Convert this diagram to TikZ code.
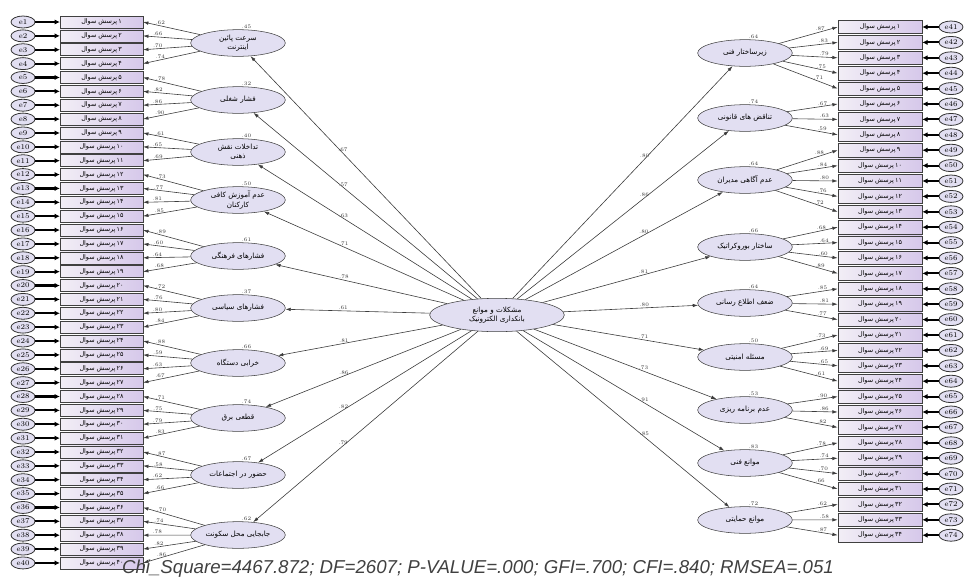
\documentclass[tikz,border=0pt]{standalone}
\usepackage{fontspec}
\setsansfont{Liberation Sans}
\newfontfamily\arabicfont[Script=Arabic]{DejaVu Sans}
\newfontfamily\digitfont{DejaVu Sans}
\TeXXeTstate=1
\usetikzlibrary{shapes.geometric, arrows.meta, positioning}
\definecolor{boxleft}{RGB}{242,238,246}
\definecolor{boxright}{RGB}{214,200,234}
\definecolor{latfill}{RGB}{226,223,242}
\definecolor{linegray}{RGB}{60,60,60}

\newcommand{\rtl}[1]{{\arabicfont\beginR #1\endR}}
\newcommand{\fadigit}[1]{\ifcase#1 ۰\or ۱\or ۲\or ۳\or ۴\or ۵\or ۶\or ۷\or ۸\or ۹\fi}
\newcommand{\fanum}[1]{\pgfmathtruncatemacro\fatens{#1/10}\pgfmathtruncatemacro\faones{mod(#1,10)}%
  {\digitfont\ifnum\fatens>0 \fadigit{\fatens}\fi\fadigit{\faones}}}

\begin{document}
\begin{tikzpicture}[x=0.75pt, y=-0.75pt,
  indbox/.style={rectangle, draw=black!75, left color=boxleft, right color=boxright,
    minimum width=62pt, minimum height=9pt, inner sep=0pt, font=\fontsize{4.8}{5}\selectfont},
  indboxr/.style={indbox, minimum width=63pt, minimum height=10pt},
  errnode/.style={ellipse, draw=black!80, line width=0.6pt, fill=latfill, minimum width=18pt,
    minimum height=9pt, inner sep=0pt, font=\fontsize{5.5}{6}\selectfont},
  latent/.style={ellipse, draw=black!75, fill=latfill, minimum width=71pt, minimum height=20pt,
    inner sep=0pt, align=center, font=\fontsize{5.4}{6.8}\selectfont},
  centre/.style={latent, minimum width=101pt, minimum height=25pt},
  lbl/.style={font=\fontsize{4}{4}\selectfont, inner sep=0.6pt, text=black!80},
  arrow/.style={-{Latex[length=4pt,width=2.6pt]}, line width=0.45pt, draw=linegray},
  errarrow/.style={-{Latex[length=4pt,width=4pt]}, line width=1.6pt}
]
\useasboundingbox (0,0) rectangle (964,579);

% central construct
\node[centre] (C) at (497,315) {\rtl{مشکلات و موانع}\\\rtl{بانکداری الکترونیک}};

% left indicators and errors
\foreach \i in {1,...,40}{
  \pgfmathsetmacro\yy{22+(\i-1)*13.87}
  \node[indbox] (LB\i) at (101.5,\yy) {\rtl{پرسش سوال}\,\fanum{\i}};
  \node[errnode] (LE\i) at (23,\yy) {e\i};
  \draw[errarrow] (LE\i) -- (LB\i);
}

% right indicators and errors
\foreach \i in {1,...,34}{
  \pgfmathsetmacro\yy{27+(\i-1)*15.4}
  \pgfmathtruncatemacro\en{\i+40}
  \node[indboxr] (RB\i) at (880,\yy) {\rtl{پرسش سوال}\,\fanum{\i}};
  \node[errnode] (RE\i) at (951,\yy) {e\en};
  \draw[errarrow] (RE\i) -- (RB\i);
}

% left factors
\foreach \g/\yy/\txt/\w/\rr in {
  1/43/{\rtl{سرعت پائین}\\\rtl{اینترنت}}/.67/.45,
  2/100/{\rtl{فشار شغلی}}/.57/.32,
  3/152/{\rtl{تداخلات نقش}\\\rtl{ذهنی}}/.63/.40,
  4/200/{\rtl{عدم آموزش کافی}\\\rtl{کارکنان}}/.71/.50,
  5/256/{\rtl{فشارهای فرهنگی}}/.78/.61,
  6/308/{\rtl{فشارهای سیاسی}}/.61/.37,
  7/363/{\rtl{خرابی دستگاه}}/.81/.66,
  8/418/{\rtl{قطعی برق}}/.86/.74,
  9/475/{\rtl{حضور در اجتماعات}}/.82/.67,
  10/535/{\rtl{جابجایی محل سکونت}}/.79/.62}{
  \node[latent] (LL\g) at (238,\yy) {\txt};
  \node[lbl, anchor=south west] at ([xshift=2pt]LL\g.north) {\rr};
  \draw[arrow] (C) -- node[lbl, pos=.6, above] {\w} (LL\g);
}

% right factors
\foreach \g/\yy/\txt/\w/\rr in {
  1/53/{\rtl{زیرساختار فنی}}/.80/.64,
  2/118/{\rtl{تناقض های قانونی}}/.86/.74,
  3/180/{\rtl{عدم آگاهی مدیران}}/.80/.64,
  4/247/{\rtl{ساختار بوروکراتیک}}/.81/.66,
  5/303/{\rtl{ضعف اطلاع رسانی}}/.80/.64,
  6/357/{\rtl{مسئله امنیتی}}/.71/.50,
  7/410/{\rtl{عدم برنامه ریزی}}/.73/.53,
  8/463/{\rtl{موانع فنی}}/.91/.83,
  9/520/{\rtl{موانع حمایتی}}/.85/.72}{
  \node[latent] (RL\g) at (745,\yy) {\txt};
  \node[lbl, anchor=south west] at ([xshift=2pt]RL\g.north) {\rr};
  \draw[arrow] (C) -- node[lbl, pos=.6, above] {\w} (RL\g);
}

% loadings, left
\foreach \g/\a/\b in {1/1/4, 2/5/8, 3/9/11, 4/12/15, 5/16/19, 6/20/23, 7/24/27, 8/28/31, 9/32/35, 10/36/40}{
  \foreach \i in {\a,...,\b}{
    \pgfmathtruncatemacro\ld{58+mod(\i*37,33)}
    \draw[arrow] (LL\g) -- node[lbl, pos=.7, above] {.\ld} (LB\i.east);
  }
}

% loadings, right
\foreach \g/\a/\b in {1/1/5, 2/6/8, 3/9/13, 4/14/17, 5/18/20, 6/21/24, 7/25/27, 8/28/31, 9/32/34}{
  \foreach \i in {\a,...,\b}{
    \pgfmathtruncatemacro\ld{58+mod(\i*29,33)}
    \draw[arrow] (RL\g) -- node[lbl, pos=.7, above] {.\ld} (RB\i.west);
  }
}

% fit indices
\node[font=\sffamily\itshape\fontsize{14}{15}\selectfont, text=black!75] (fitidx) at (478,569)
  {Chi\_Square=4467.872; DF=2607; P-VALUE=.000; GFI=.700; CFI=.840; RMSEA=.051};
\end{tikzpicture}
\end{document}
